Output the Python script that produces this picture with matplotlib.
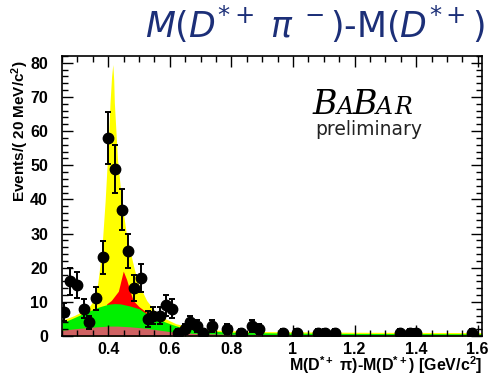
import matplotlib
matplotlib.use("Agg")
import matplotlib.pyplot as plt
import numpy as np
from matplotlib.ticker import MultipleLocator

# binned candidates, 20 MeV/c^2 bins
mass = [0.258, 0.276, 0.298, 0.322, 0.339, 0.359, 0.382, 0.400, 0.422, 0.444,
        0.465, 0.485, 0.505, 0.528, 0.546, 0.568, 0.587, 0.606, 0.627, 0.648,
        0.666, 0.687, 0.709, 0.738, 0.785, 0.830, 0.866, 0.890, 0.969, 1.013,
        1.080, 1.104, 1.136, 1.347, 1.380, 1.400, 1.580]
events = [7, 16, 15, 8, 4, 11, 23, 58, 49, 37,
          25, 14, 17, 5, 6, 6, 9, 8, 1, 2,
          4, 3, 1, 3, 2, 1, 3, 2, 1, 1,
          1, 1, 1, 1, 1, 1, 1]

# stacked fit components (top edge of each layer)
yel_x = [0.25, 0.29, 0.32, 0.34, 0.352, 0.366, 0.379, 0.39, 0.40, 0.406, 0.411,
         0.415, 0.418, 0.42, 0.43, 0.444, 0.458, 0.471, 0.485, 0.498, 0.525,
         0.55, 0.58, 0.62, 0.68, 0.75, 0.90, 1.2, 1.614]
yel_y = [4.6, 6.0, 7.4, 8.8, 10.4, 15.4, 24.9, 39.4, 56, 68.4, 76,
         79.5, 75, 68.4, 52, 39.4, 30.5, 24.9, 19.5, 15.4, 10.4,
         7.5, 5.3, 3.6, 2.3, 1.7, 1.3, 1.1, 1.0]

red_x = [0.395, 0.41, 0.433, 0.449, 0.46, 0.471, 0.481, 0.50, 0.525]
red_y = [9.4, 10.4, 13.1, 19.0, 16.5, 13.1, 10.4, 8.6, 6.9]

grn_x = [0.25, 0.28, 0.31, 0.34, 0.37, 0.40, 0.42, 0.44, 0.47, 0.50, 0.52,
         0.568, 0.60, 0.64, 0.70, 0.80, 0.90, 1.0, 1.2, 1.4, 1.614]
grn_y = [3.9, 5.0, 6.2, 7.4, 8.5, 9.3, 9.5, 9.4, 8.8, 8.0, 6.8,
         4.7, 3.6, 2.4, 1.6, 1.1, 0.95, 0.85, 0.75, 0.7, 0.65]

bkg_x = [0.25, 0.30, 0.35, 0.40, 0.43, 0.47, 0.52, 0.56, 0.60, 0.65, 0.70,
         0.80, 1.0, 1.3, 1.614]
bkg_y = [1.7, 2.2, 2.6, 2.9, 2.9, 2.7, 2.3, 1.8, 1.3, 0.9, 0.7,
         0.5, 0.4, 0.35, 0.3]

plt.rcParams["font.family"] = ["Liberation Sans", "DejaVu Sans"]
plt.rcParams["mathtext.default"] = "regular"
plt.rcParams["mathtext.fontset"] = "dejavusans"

fig = plt.figure(figsize=(4.93, 3.76), dpi=100)
ax = fig.add_axes([62/493, 1-336/376, 420/493, 280/376])

ax.fill_between(yel_x, 0, yel_y, color="#ffff00", lw=0)
ax.fill_between(red_x, 0, red_y, color="#ff0000", lw=0)
ax.fill_between(grn_x, 0, grn_y, color="#00f000", lw=0)
ax.fill_between(bkg_x, 0, bkg_y, color="#d06262", lw=0)

ax.errorbar(mass, events, yerr=np.sqrt(events), fmt="o", color="black",
            ms=7.5, elinewidth=1.4, capsize=2.5, capthick=1.4, zorder=5)

ax.set_xlim(0.25, 1.614)
ax.set_ylim(0, 82)

ax.xaxis.set_major_locator(MultipleLocator(0.2))
ax.xaxis.set_minor_locator(MultipleLocator(0.05))
ax.yaxis.set_major_locator(MultipleLocator(10))
ax.yaxis.set_minor_locator(MultipleLocator(2))
ax.tick_params(which="both", direction="in", top=True, right=True, width=1)
ax.tick_params(which="major", length=8)
ax.tick_params(which="minor", length=4.5)
ax.tick_params(axis="y", which="major", pad=10)
ax.tick_params(axis="x", which="major", pad=4)
ax.set_xticks([0.4, 0.6, 0.8, 1.0, 1.2, 1.4, 1.6])
ax.set_xticklabels(["0.4", "0.6", "0.8", "1", "1.2", "1.4", "1.6"])
for lab in ax.get_xticklabels() + ax.get_yticklabels():
    lab.set_fontweight("bold")
    lab.set_fontsize(11.5)
for s in ax.spines.values():
    s.set_linewidth(1.2)

fig.text(20/493, 1-60/376, "Events/( 20 MeV/c$^{2}$)", rotation=90,
         ha="center", va="top", fontsize=11, fontweight="bold")
fig.text(482/493, 1-365/376, "M(D$^{*+}$ \u03c0)-M(D$^{*+}$) [GeV/c$^{2}$]",
         ha="right", va="center", fontsize=11.5, fontweight="bold")

# experiment tag, small-caps style
tag = dict(family="DejaVu Serif", style="italic", va="baseline")
for letter, xpx, size in [("B", 313, 24), ("A", 337, 17), ("B", 352, 24),
                          ("A", 376, 17), ("R", 394, 17)]:
    fig.text(xpx/493, 1-114/376, letter, fontsize=size, **tag)
fig.text(315/493, 1-135/376, "preliminary", family="DejaVu Sans",
         ha="left", va="baseline", fontsize=13.5, color="#222222")

fig.text(145/493, 1-38/376,
         r"$\mathit{M}(\mathit{D}^{*+}\;\mathit{\pi}^{\;-})$-M($\mathit{D}^{*+}$)",
         family="DejaVu Sans", fontsize=25, color="#1c2f78", va="baseline")
fig.text(0.385, 1.012, "y", fontsize=18, fontweight="bold", va="baseline",
         ha="center")

fig.savefig("out.png", dpi=100)
